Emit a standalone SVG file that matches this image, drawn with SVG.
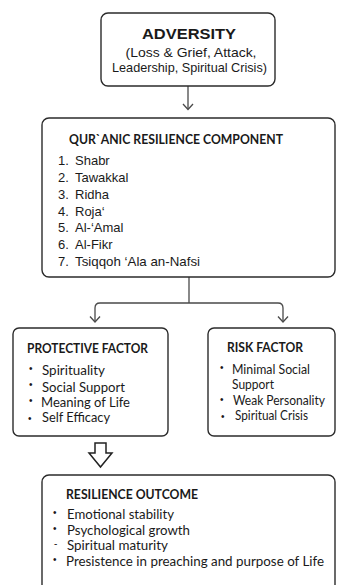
<svg xmlns="http://www.w3.org/2000/svg" width="352" height="585" viewBox="0 0 352 585">
  <defs>
    <style>
      .box { fill: #ffffff; stroke: #2b2b2b; stroke-width: 1.4; }
      .wire { fill: none; stroke: #4a4a4a; stroke-width: 1.3; }
      .head { fill: none; stroke: #4a4a4a; stroke-width: 1.3; stroke-linejoin: miter; }
      .sans { font-family: "Liberation Sans", Arial, sans-serif; fill: #1a1a1a; }
      .hum { font-family: Lato, "Liberation Sans", sans-serif; fill: #1a1a1a; }
      .bold { font-weight: bold; }
      .dot { font-family: "Liberation Sans", Arial, sans-serif; font-size: 10px; fill: #1a1a1a; }
    </style>
  </defs>
  <rect width="352" height="585" fill="#ffffff"/>

  <!-- connectors -->
  <g id="connectors">
    <line class="wire" x1="188" y1="86" x2="188" y2="109"/>
    <polyline class="head" points="183,104 188,109.5 193,104"/>
    <path class="wire" d="M189 277 V303 M95 322 V308 Q95 303 100 303 H278 Q283 303 283 308 V322"/>
    <polyline class="head" points="90,316.5 95,322 100,316.5"/>
    <polyline class="head" points="278,316.5 283,322 288,316.5"/>
    <polygon points="95,443 106,443 106,453 112,453 100.5,467 89,453 95,453" fill="#ffffff" stroke="#222222" stroke-width="1.5" stroke-linejoin="miter"/>
  </g>

  <g id="adversity">
    <rect class="box" x="101" y="13" width="174" height="73" rx="7"/>
    <text class="sans bold" x="189" y="39" font-size="15" text-anchor="middle" textLength="94" lengthAdjust="spacingAndGlyphs">ADVERSITY</text>
    <text class="sans" x="191" y="57" font-size="13.3" text-anchor="middle" textLength="131" lengthAdjust="spacingAndGlyphs">(Loss &amp; Grief, Attack,</text>
    <text class="sans" x="189.5" y="72" font-size="13.3" text-anchor="middle" textLength="155" lengthAdjust="spacingAndGlyphs">Leadership, Spiritual Crisis)</text>
  </g>

  <g id="component">
    <rect class="box" x="42" y="118" width="293" height="159" rx="7"/>
    <text class="hum bold" x="69" y="144" font-size="12.5" textLength="214" lengthAdjust="spacingAndGlyphs">QUR`ANIC RESILIENCE COMPONENT</text>
    <g class="sans" font-size="13">
      <text x="58" y="165">1.</text><text x="75" y="165">Shabr</text>
      <text x="58" y="182">2.</text><text x="75" y="182">Tawakkal</text>
      <text x="58" y="199">3.</text><text x="75" y="199">Ridha</text>
      <text x="58" y="216">4.</text><text x="75" y="216">Roja‘</text>
      <text x="58" y="232">5.</text><text x="75" y="232">Al-‘Amal</text>
      <text x="58" y="249">6.</text><text x="75" y="249">Al-Fikr</text>
      <text x="58" y="266">7.</text><text x="75" y="266" textLength="125" lengthAdjust="spacingAndGlyphs">Tsiqqoh ‘Ala an-Nafsi</text>
    </g>
  </g>

  <g id="protective">
    <rect class="box" x="13" y="328" width="155" height="108" rx="6"/>
    <text class="hum bold" x="27" y="353" font-size="12.5" textLength="121" lengthAdjust="spacingAndGlyphs">PROTECTIVE FACTOR</text>
    <text class="dot" x="29" y="372">•</text>
    <text class="dot" x="29" y="388">•</text>
    <text class="dot" x="29" y="404">•</text>
    <text class="dot" x="28" y="422">•</text>
    <g class="hum" font-size="12.5">
      <text x="42" y="375" textLength="63" lengthAdjust="spacingAndGlyphs">Spirituality</text>
      <text x="42" y="392" textLength="83" lengthAdjust="spacingAndGlyphs">Social Support</text>
      <text x="41" y="407" textLength="89" lengthAdjust="spacingAndGlyphs">Meaning of Life</text>
      <text x="42" y="422" textLength="68" lengthAdjust="spacingAndGlyphs">Self Efficacy</text>
    </g>
  </g>

  <g id="risk">
    <rect class="box" x="208" y="328" width="127" height="108" rx="6"/>
    <text class="hum bold" x="227" y="352" font-size="12.5" textLength="76" lengthAdjust="spacingAndGlyphs">RISK FACTOR</text>
    <text class="dot" x="220" y="371">•</text>
    <text class="dot" x="220" y="403">•</text>
    <text class="dot" x="221" y="420">•</text>
    <g class="hum" font-size="12.5">
      <text x="232" y="374" textLength="78" lengthAdjust="spacingAndGlyphs">Minimal Social</text>
      <text x="232" y="389" textLength="42" lengthAdjust="spacingAndGlyphs">Support</text>
      <text x="233" y="405" textLength="92" lengthAdjust="spacingAndGlyphs">Weak Personality</text>
      <text x="235" y="420" textLength="73" lengthAdjust="spacingAndGlyphs">Spiritual Crisis</text>
    </g>
  </g>

  <g id="outcome">
    <rect class="box" x="42" y="475" width="293" height="125" rx="7"/>
    <text class="hum bold" x="66" y="499" font-size="12.5" textLength="132" lengthAdjust="spacingAndGlyphs">RESILIENCE OUTCOME</text>
    <text class="dot" x="53" y="516">•</text>
    <text class="dot" x="53" y="532">•</text>
    <text class="dot" x="54" y="547">-</text>
    <text class="dot" x="53" y="563">•</text>
    <g class="hum" font-size="12.5">
      <text x="67" y="519" textLength="107" lengthAdjust="spacingAndGlyphs">Emotional stability</text>
      <text x="67" y="535" textLength="123" lengthAdjust="spacingAndGlyphs">Psychological growth</text>
      <text x="67" y="550" textLength="101" lengthAdjust="spacingAndGlyphs">Spiritual maturity</text>
      <text x="66" y="566" textLength="258" lengthAdjust="spacingAndGlyphs">Presistence in preaching and purpose of Life</text>
    </g>
  </g>
</svg>
